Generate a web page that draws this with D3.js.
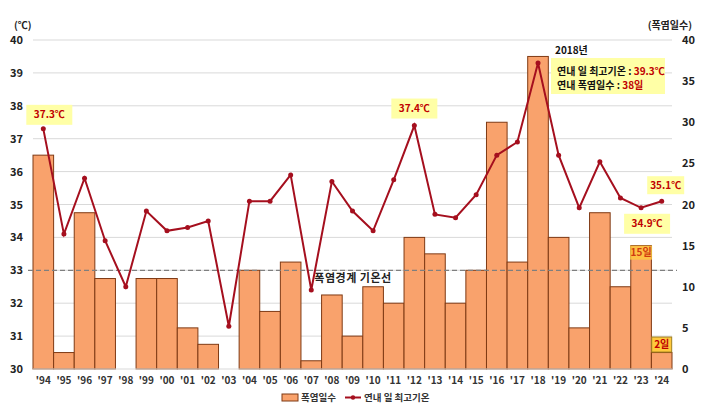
<!DOCTYPE html>
<html>
<head>
<meta charset="utf-8">
<script src="https://cdn.jsdelivr.net/npm/d3@7"></script>
<style>
  body { margin: 0; background: #fff; }
  svg text { font-family: "Noto Sans CJK KR", "Noto Sans", sans-serif; }
</style>
</head>
<body>
<div id="chart"></div>
<script>
const years = ["'94","'95","'96","'97","'98","'99","'00","'01","'02","'03","'04","'05","'06","'07","'08","'09",
  "'10","'11","'12","'13","'14","'15","'16","'17","'18","'19","'20","'21","'22","'23","'24"];
const heatDays = [26, 2, 19, 11, 0, 11, 11, 5, 3, 0, 12, 7, 13, 1, 9, 4,
  10, 8, 16, 14, 8, 12, 30, 13, 38, 16, 5, 19, 10, 15, 2];
const maxTemp = [37.3, 34.1, 35.8, 33.9, 32.5, 34.8, 34.2, 34.3, 34.5, 31.3, 35.1, 35.1, 35.9, 32.4, 35.7, 34.8,
  34.2, 35.75, 37.4, 34.7, 34.6, 35.3, 36.5, 36.9, 39.3, 36.5, 34.9, 36.3, 35.2, 34.9, 35.1];
const tempTicks = [30, 31, 32, 33, 34, 35, 36, 37, 38, 39, 40];
const dayTicks = [0, 5, 10, 15, 20, 25, 30, 35, 40];
const thresholdTemp = 33;

const width = 720, height = 408;
const mLeft = 33, mRight = 672, mTop = 40, mBottom = 369;

const svg = d3.select('#chart').append('svg')
  .attr('width', width)
  .attr('height', height);

const x = d3.scaleBand().domain(years).range([mLeft, mRight]).padding(0);
const yT = d3.scaleLinear().domain([30, 40]).range([mBottom, mTop]);
const yD = d3.scaleLinear().domain([0, 40]).range([mBottom, mTop]);

// grid
svg.append('g').selectAll('line')
  .data(tempTicks.filter(d => d > 30))
  .join('line')
    .attr('x1', mLeft).attr('x2', mRight)
    .attr('y1', d => yT(d)).attr('y2', d => yT(d))
    .attr('stroke', '#d9d9d9').attr('stroke-width', 1);

// left axis
const axL = svg.append('g')
  .attr('transform', `translate(${mLeft},0)`)
  .call(d3.axisLeft(yT).tickValues(tempTicks).tickSize(0).tickPadding(10));
axL.select('.domain').remove();
axL.selectAll('text').attr('font-size', 11).attr('font-weight', 700).attr('fill', '#222');

// right axis
const axR = svg.append('g')
  .attr('transform', `translate(${mRight},0)`)
  .call(d3.axisRight(yD).tickValues(dayTicks).tickSize(0).tickPadding(10));
axR.select('.domain').remove();
axR.selectAll('text').attr('font-size', 11).attr('font-weight', 700).attr('fill', '#222');

// bars
svg.append('g').selectAll('rect')
  .data(years.map((y, i) => ({ y, v: heatDays[i] })))
  .join('rect')
    .attr('x', d => x(d.y))
    .attr('y', d => yD(d.v))
    .attr('width', x.bandwidth())
    .attr('height', d => mBottom - yD(d.v))
    .attr('fill', '#f9a26c')
    .attr('stroke', d => d.v > 0 ? '#7f3a14' : 'none')
    .attr('stroke-width', 1);

// bottom baseline
svg.append('line')
  .attr('x1', mLeft).attr('x2', mRight).attr('y1', mBottom).attr('y2', mBottom)
  .attr('stroke', '#d9d9d9');

// x axis labels
const axB = svg.append('g')
  .attr('transform', `translate(0,${mBottom})`)
  .call(d3.axisBottom(x).tickSize(0).tickPadding(8));
axB.select('.domain').remove();
axB.selectAll('text').attr('font-size', 10).attr('font-weight', 700).attr('fill', '#333');

// threshold line
svg.append('line')
  .attr('x1', mLeft - 5).attr('x2', mRight + 5)
  .attr('y1', yT(thresholdTemp)).attr('y2', yT(thresholdTemp))
  .attr('stroke', '#7f7f7f').attr('stroke-width', 1.3).attr('stroke-dasharray', '5,3');
svg.append('text')
  .attr('x', 353).attr('y', yT(thresholdTemp) + 12)
  .attr('text-anchor', 'middle').attr('font-size', 11).attr('font-weight', 700).attr('fill', '#222')
  .attr('letter-spacing', 0.5)
  .text('폭염경계 기온선');

// temperature line
const line = d3.line()
  .x((d, i) => x(years[i]) + x.bandwidth() / 2)
  .y(d => yT(d));
svg.append('path')
  .datum(maxTemp)
  .attr('d', line)
  .attr('fill', 'none').attr('stroke', '#a50f1e').attr('stroke-width', 2);
svg.append('g').selectAll('circle')
  .data(maxTemp)
  .join('circle')
    .attr('cx', (d, i) => x(years[i]) + x.bandwidth() / 2)
    .attr('cy', d => yT(d))
    .attr('r', 2.5)
    .attr('fill', '#a50f1e');

// callouts
function callout(cx, cy, w, h, txt, fill, color, stroke) {
  svg.append('rect')
    .attr('x', cx - w / 2).attr('y', cy - h / 2).attr('width', w).attr('height', h)
    .attr('fill', fill).attr('stroke', stroke || 'none');
  svg.append('text')
    .attr('x', cx).attr('y', cy).attr('dy', '0.36em')
    .attr('text-anchor', 'middle').attr('font-size', 10).attr('font-weight', 700).attr('fill', color)
    .text(txt);
}
const yellow = '#ffffa6';
const tx = i => x(years[i]) + x.bandwidth() / 2;
callout(tx(0) + 6, yT(maxTemp[0]) - 14, 46, 20, '37.3℃', yellow, '#c00000');
callout(tx(18), yT(maxTemp[18]) - 17, 46, 20, '37.4℃', yellow, '#c00000');
callout(tx(30) + 4, yT(maxTemp[30]) - 16, 37, 18, '35.1℃', yellow, '#c00000');
callout(tx(29) + 6, yT(maxTemp[29]) + 16, 46, 20, '34.9℃', yellow, '#c00000');
callout(tx(29), yD(heatDays[29]) + 7, 22, 14, '15일', 'rgba(255,200,60,0.8)', '#d03a10');
callout(tx(30), yD(heatDays[30]) - 8, 20, 15, '2일', 'rgba(255,195,40,0.9)', '#c00000', '#a08020');

// 2018 annotation
svg.append('text')
  .attr('x', 555).attr('y', 54)
  .attr('font-size', 10).attr('font-weight', 700).attr('fill', '#111')
  .text('2018년');
svg.append('rect')
  .attr('x', 551).attr('y', 58).attr('width', 114).attr('height', 36)
  .attr('fill', yellow);
const l1 = svg.append('text').attr('x', 557).attr('y', 75)
  .attr('font-size', 10).attr('font-weight', 700).attr('fill', '#111');
l1.append('tspan').text('연내 일 최고기온 : ');
l1.append('tspan').attr('fill', '#c00000').text('39.3℃');
const l2 = svg.append('text').attr('x', 557).attr('y', 89)
  .attr('font-size', 10).attr('font-weight', 700).attr('fill', '#111');
l2.append('tspan').text('연내 폭염일수 : ');
l2.append('tspan').attr('fill', '#c00000').text('38일');

// units
svg.append('text').attr('x', 14).attr('y', 29)
  .attr('font-size', 10).attr('font-weight', 700).attr('fill', '#222').text('(℃)');
svg.append('text').attr('x', 692).attr('y', 29).attr('text-anchor', 'end')
  .attr('font-size', 10).attr('font-weight', 700).attr('fill', '#222').text('(폭염일수)');

// legend
const lg = svg.append('g');
lg.append('rect').attr('x', 282).attr('y', 394).attr('width', 16).attr('height', 7)
  .attr('fill', '#f9a26c').attr('stroke', '#7f3a14');
lg.append('text').attr('x', 301).attr('y', 401).attr('font-size', 9.5).attr('font-weight', 700)
  .attr('fill', '#333').text('폭염일수');
lg.append('line').attr('x1', 345).attr('x2', 361).attr('y1', 397.5).attr('y2', 397.5)
  .attr('stroke', '#a50f1e').attr('stroke-width', 2);
lg.append('circle').attr('cx', 353).attr('cy', 397.5).attr('r', 2.2).attr('fill', '#a50f1e');
lg.append('text').attr('x', 364).attr('y', 401).attr('font-size', 9.5).attr('font-weight', 700)
  .attr('fill', '#333').text('연내 일 최고기온');
</script>
</body>
</html>
